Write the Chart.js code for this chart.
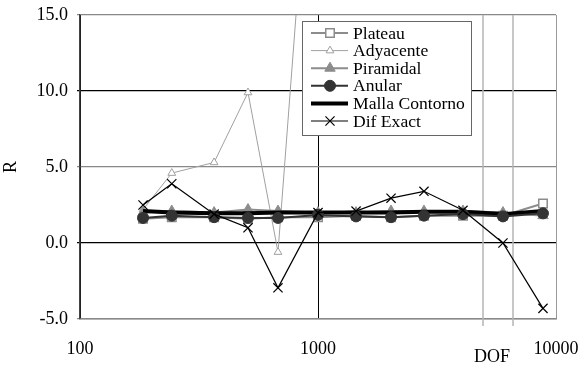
<!DOCTYPE html>
<html>
<head>
<meta charset="utf-8">
<script src="https://cdn.jsdelivr.net/npm/chart.js@4"></script>
<style>
  body { margin: 0; background: #fff; }
  #wrap { width: 582px; height: 365px; }
</style>
</head>
<body>
<div id="wrap"><canvas id="myChart"></canvas></div>
<script>
// DOF values (x)
var dof = [184, 243, 366, 508, 679, 1000, 1445, 2027, 2788, 4066, 5986, 8817];

var plateau   = [1.6, 1.7, 1.7, 1.6, 1.7, 1.7, 1.8, 1.7, 1.8, 1.8, 1.8, 2.6];
var adyacente = [2.2, 4.6, 5.3, 9.9, -0.6, 34, null, null, null, null, null, null];
var piramidal = [2.0, 2.1, 2.0, 2.2, 2.1, 2.0, 2.0, 2.1, 2.1, 2.1, 2.0, 1.8];
var anular    = [1.65, 1.8, 1.7, 1.65, 1.65, 1.85, 1.75, 1.7, 1.8, 1.9, 1.75, 1.95];
var malla     = [2.1, 2.0, 1.95, 1.95, 2.0, 2.0, 2.0, 2.0, 2.05, 2.05, 1.9, 2.1];
var difExact  = [2.5, 3.9, 1.9, 1.0, -2.95, 2.0, 2.1, 2.95, 3.4, 2.15, 0.0, -4.3];

var xTicks = [100, 1000, 10000];
var yTicks = [-5, 0, 5, 10, 15];
var dofLines = [4930, 6600];

var serif = 'Liberation Serif, Times New Roman, serif';

function pts(vals) {
    return dof.map(function (d, i) { return { x: d, y: vals[i] }; });
}

var datasets = [
    { label: 'Plateau', data: pts(plateau), borderColor: '#8c8c8c', borderWidth: 2,
      pointStyle: 'rect', pointRadius: 6, pointBackgroundColor: '#fff', pointBorderColor: '#8c8c8c', pointBorderWidth: 1.5, order: 3 },
    { label: 'Adyacente', data: pts(adyacente), borderColor: '#a0a0a0', borderWidth: 1,
      pointStyle: 'triangle', pointRadius: 4.5, pointBackgroundColor: '#fff', pointBorderColor: '#a0a0a0', pointBorderWidth: 1, order: 5 },
    { label: 'Piramidal', data: pts(piramidal), borderColor: '#8c8c8c', borderWidth: 2,
      pointStyle: 'triangle', pointRadius: 6, pointBackgroundColor: '#8c8c8c', pointBorderColor: '#8c8c8c', pointBorderWidth: 1, order: 4 },
    { label: 'Anular', data: pts(anular), borderColor: '#333', borderWidth: 2,
      pointStyle: 'circle', pointRadius: 5.5, pointBackgroundColor: '#333', pointBorderColor: '#333', pointBorderWidth: 1, order: 1 },
    { label: 'Malla Contorno', data: pts(malla), borderColor: '#000', borderWidth: 4,
      pointRadius: 0, order: 2 },
    { label: 'Dif Exact', data: pts(difExact), borderColor: '#000', borderWidth: 1.2,
      pointStyle: 'crossRot', pointRadius: 6.5, pointBorderColor: '#000', pointBorderWidth: 1.2, order: 0 }
];

// vertical gray DOF lines + label
var dofPlugin = {
    id: 'dofLines',
    beforeDatasetsDraw: function (chart) {
        var c = chart.ctx, xs = chart.scales.x, a = chart.chartArea;
        c.save();
        c.strokeStyle = '#b4b4b4';
        c.lineWidth = 1.5;
        dofLines.forEach(function (v) {
            var px = Math.round(xs.getPixelForValue(v));
            c.beginPath();
            c.moveTo(px, a.top);
            c.lineTo(px, a.bottom + 7);
            c.stroke();
        });
        c.restore();
    },
    afterDraw: function (chart) {
        var c = chart.ctx;
        c.save();
        c.fillStyle = '#000';
        c.font = '18px ' + serif;
        c.textAlign = 'center';
        c.textBaseline = 'middle';
        c.fillText('DOF', 492, 357);
        c.restore();
    }
};

function drawMarker(c, style, r, x, y) {
    if (style === 'rect') {
        var s = r * Math.SQRT1_2 * 2;
        c.rect(x - s / 2, y - s / 2, s, s);
    } else if (style === 'triangle') {
        c.moveTo(x, y - r);
        c.lineTo(x + r * 0.866, y + r * 0.5);
        c.lineTo(x - r * 0.866, y + r * 0.5);
        c.closePath();
    } else if (style === 'circle') {
        c.arc(x, y, r, 0, Math.PI * 2);
    } else if (style === 'crossRot') {
        var d = r * 0.7;
        c.moveTo(x - d, y - d); c.lineTo(x + d, y + d);
        c.moveTo(x + d, y - d); c.lineTo(x - d, y + d);
    }
}

// legend box inside the plot
var legendPlugin = {
    id: 'boxLegend',
    afterDraw: function (chart) {
        var c = chart.ctx;
        var x0 = 302, y0 = 21, w = 169, h = 114;
        c.save();
        c.fillStyle = '#fff';
        c.fillRect(x0, y0, w, h);
        c.strokeStyle = '#666';
        c.lineWidth = 1;
        c.strokeRect(x0 + 0.5, y0 + 0.5, w, h);
        chart.data.datasets.forEach(function (ds, i) {
            var cy = y0 + 12 + i * 17.6;
            c.strokeStyle = ds.borderColor;
            c.lineWidth = ds.borderWidth;
            c.beginPath();
            c.moveTo(311, cy);
            c.lineTo(348, cy);
            c.stroke();
            if (ds.pointRadius) {
                c.fillStyle = ds.pointBackgroundColor || '#fff';
                c.strokeStyle = ds.pointBorderColor;
                c.lineWidth = ds.pointBorderWidth;
                c.beginPath();
                drawMarker(c, ds.pointStyle, ds.pointRadius, 330, cy);
                if (ds.pointStyle !== 'crossRot') c.fill();
                c.stroke();
            }
            c.fillStyle = '#000';
            c.font = '17.6px ' + serif;
            c.textAlign = 'left';
            c.textBaseline = 'middle';
            c.fillText(ds.label, 353, cy + 1);
        });
        c.restore();
    }
};

new Chart(document.getElementById('myChart'), {
    type: 'line',
    data: { datasets: datasets },
    options: {
        responsive: true,
        maintainAspectRatio: false,
        animation: false,
        spanGaps: false,
        layout: { padding: { left: 0, top: 15, right: 26, bottom: 0 } },
        elements: { line: { tension: 0 } },
        plugins: { legend: { display: false }, tooltip: { enabled: false } },
        scales: {
            x: {
                type: 'logarithmic',
                min: 100,
                max: 10000,
                afterBuildTicks: function (s) { s.ticks = xTicks.map(function (v) { return { value: v }; }); },
                afterFit: function (s) { s.height = 46; s.paddingLeft = 0; s.paddingRight = 0; },
                ticks: {
                    color: '#000',
                    font: { family: serif, size: 18 },
                    padding: 19,
                    maxRotation: 0,
                    callback: function (v) { return String(v); }
                },
                grid: {
                    color: function (ctx) { return ctx.tick && ctx.tick.value === 10000 ? '#999' : '#000'; },
                    lineWidth: 1,
                    drawTicks: false
                },
                border: { color: '#888', width: 1.5 }
            },
            y: {
                min: -5,
                max: 15,
                afterBuildTicks: function (s) { s.ticks = yTicks.map(function (v) { return { value: v }; }); },
                afterFit: function (s) { s.width = 80; s.paddingTop = 0; s.paddingBottom = 0; },
                ticks: {
                    color: '#000',
                    font: { family: serif, size: 18 },
                    padding: 9,
                    callback: function (v) { return v.toFixed(1); }
                },
                grid: {
                    color: function (ctx) {
                        var v = ctx.tick && ctx.tick.value;
                        return (v === 0 || v === 10) ? '#000' : '#888';
                    },
                    lineWidth: 1.2,
                    tickLength: 3
                },
                border: { color: '#444', width: 1.5 },
                title: {
                    display: true,
                    text: 'R',
                    color: '#000',
                    font: { family: serif, size: 18 },
                    padding: { top: 0, bottom: 4 }
                }
            }
        }
    },
    plugins: [dofPlugin, legendPlugin]
});
</script>
</body>
</html>
